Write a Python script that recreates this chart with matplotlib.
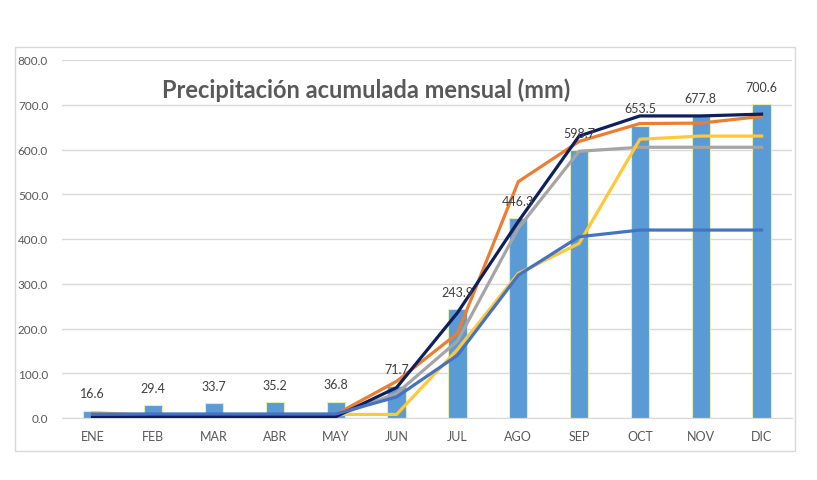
import numpy as np
import matplotlib.pyplot as plt
from matplotlib.patches import Rectangle

meses = ["ENE", "FEB", "MAR", "ABR", "MAY", "JUN", "JUL", "AGO", "SEP", "OCT", "NOV", "DIC"]
acumulada = [16.6, 29.4, 33.7, 35.2, 36.8, 71.7, 243.9, 446.3, 598.7, 653.5, 677.8, 700.6]

# series de las lineas
serie_azul = [9, 9, 9, 9, 9, 47, 140, 319, 405, 420, 420, 420]
serie_naranja = [10, 6, 6, 6, 8, 82, 189, 528, 618, 658, 659, 674]
serie_gris = [4, 4, 4, 4, 4, 55, 172, 424, 596, 605, 605, 605]
serie_amarilla = [12, 6, 6, 6, 8, 8, 153, 323, 390, 623, 630, 630]
serie_marino = [2, 3, 3, 3, 3, 68, 235, 439, 630, 675, 675, 679]

plt.rcParams['font.family'] = ['Lato', 'DejaVu Sans']

fig = plt.figure(figsize=(8.17, 4.81), dpi=100)
fig.patches.append(Rectangle((15/817, 1-452/481), 780/817, 404/481, transform=fig.transFigure,
                             fill=False, edgecolor='#D9D9D9', linewidth=1))
ax = fig.add_axes([62/817, 1-419/481, 730/817, 358/481])

x = np.arange(len(meses))
ax.bar(x, acumulada, width=0.3, color='#5B9BD5', edgecolor='#E2EFB0', linewidth=0.8, zorder=2)
for xi, v in zip(x, acumulada):
    ax.annotate(f"{v:.1f}", (xi, v), xytext=(0, 8), textcoords='offset points',
                ha='center', va='bottom', fontsize=9, color='#404040', zorder=6)

lw = 2.3
ax.plot(x, serie_naranja, color='#ED7D31', lw=lw, zorder=3)
ax.plot(x, serie_gris, color='#A5A5A5', lw=lw, zorder=3)
ax.plot(x, serie_amarilla, color='#FFC73A', lw=lw, zorder=3)
ax.plot(x, serie_marino, color='#0D1F5C', lw=lw, zorder=4)
ax.plot(x, serie_azul, color='#4472C4', lw=lw, zorder=5)

ax.set_xlim(-0.5, 11.5)
ax.set_ylim(0, 800)
ax.set_yticks(np.arange(0, 801, 100))
ax.set_yticklabels([f"{t:.1f}" for t in np.arange(0, 801, 100)])
ax.set_xticks(x)
ax.set_xticklabels(meses)
ax.tick_params(length=0, labelcolor='#595959')
ax.tick_params(axis='x', pad=9, labelsize=9)
ax.tick_params(axis='y', pad=10, labelsize=8.5)
ax.grid(axis='y', color='#D9D9D9', lw=1, zorder=0)
ax.set_axisbelow(True)
for s in ['top', 'right', 'left']:
    ax.spines[s].set_visible(False)
ax.spines['bottom'].set_color('#D9D9D9')

ax.text(0.416, 0.918, "Precipitación acumulada mensual (mm)", transform=ax.transAxes,
        ha='center', va='center', fontsize=17, fontweight='bold', color='#595959')

fig.savefig("out.png", dpi=100)
